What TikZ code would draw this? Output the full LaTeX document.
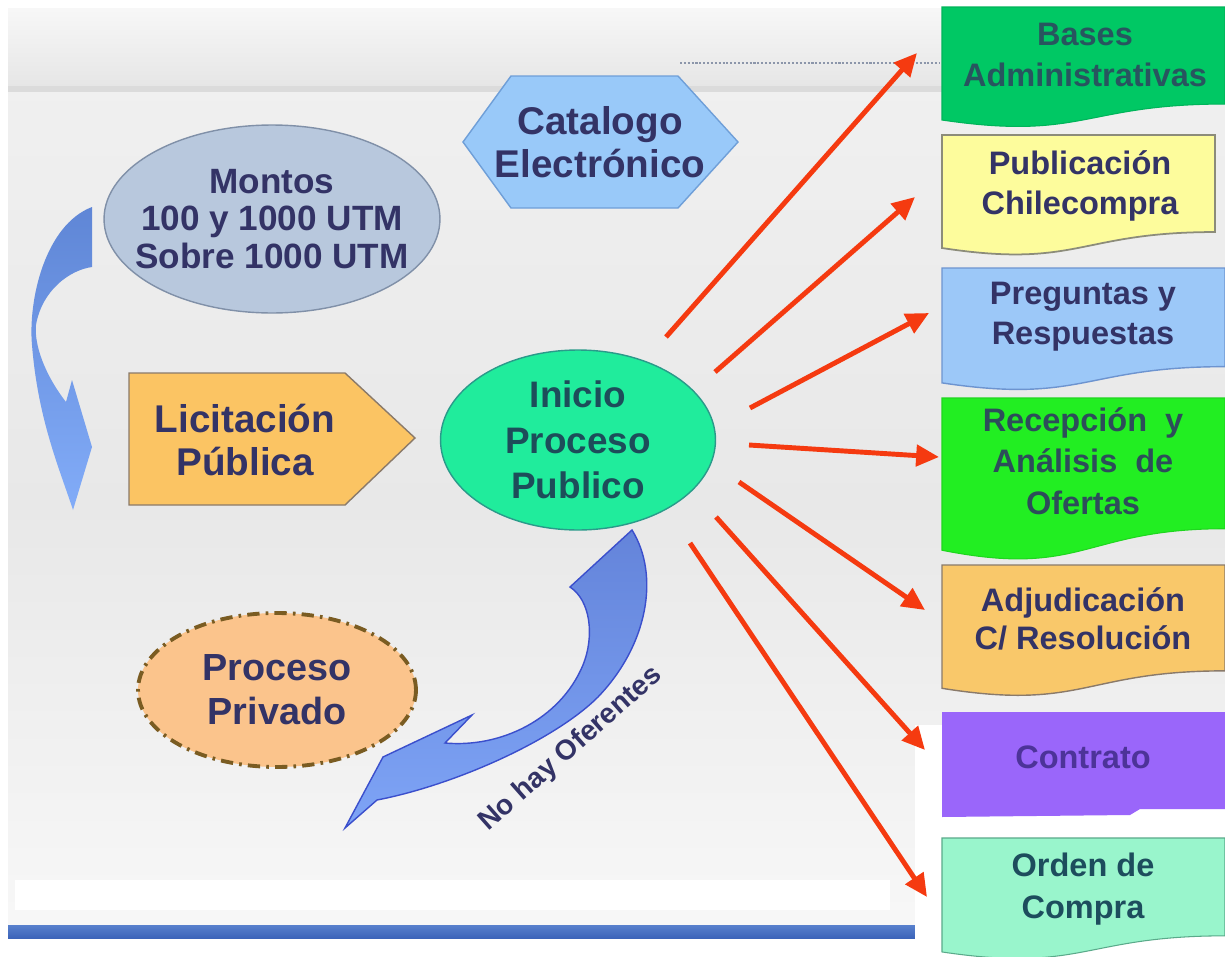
\documentclass[tikz,border=0pt]{standalone}
\usepackage{fontspec}
\setmainfont{Liberation Sans}
\usetikzlibrary{shapes.geometric,arrows.meta,calc}
\definecolor{navy}{HTML}{333366}
\definecolor{tealtxt}{HTML}{1D4D5A}
\definecolor{redarr}{HTML}{F53A10}
\definecolor{montosfill}{HTML}{B8C8DD}
\definecolor{hexfill}{HTML}{99C9F9}
\definecolor{licfill}{HTML}{FBC463}
\definecolor{iniciofill}{HTML}{20EC9C}
\definecolor{privfill}{HTML}{FBC48C}
\definecolor{basesfill}{HTML}{00C864}
\definecolor{pubfill}{HTML}{FDFC9C}
\definecolor{pregfill}{HTML}{9CC8F8}
\definecolor{recfill}{HTML}{22EE22}
\definecolor{adjfill}{HTML}{F9C86A}
\definecolor{contfill}{HTML}{9A66FA}
\definecolor{ordfill}{HTML}{99F5CC}
\newcommand\docbox[5]{%
  \path[#5] (#1,#2) -- ({#1+#3},#2) -- ({#1+#3},{#2+0.802*#4})
    .. controls ({#1+0.5*#3},{#2+0.802*#4}) and ({#1+0.5*#3},{#2+1.107*#4}) ..
    (#1,{#2+0.934*#4}) -- cycle;}
\tikzset{
  txt/.style={font=\bfseries, align=center, text=navy, inner sep=0pt},
  bigtxt/.style={txt, font=\fontsize{21.5}{25}\selectfont\bfseries},
  boxtxt/.style={txt, font=\fontsize{18.5}{22.8}\selectfont\bfseries},
  redarrow/.style={draw=redarr, line width=2.8pt, -{Triangle[length=13pt,width=12pt]}},
}
\begin{document}
\begin{tikzpicture}[x=0.02cm,y=-0.02cm]
\useasboundingbox (0,0) rectangle (1225,957);
\fill[white] (0,0) rectangle (1225,957);
% background
\shade[top color=black!6, bottom color=black!3, middle color=black!9] (8,90) rectangle (1225,925);
\shade[top color=black!3, bottom color=black!10] (8,8) rectangle (1225,88);
\fill[black!14] (8,86) rectangle (1225,92);
\fill[black!6] (8,92) rectangle (1225,97);
\fill[white] (15,880) rectangle (890,910);
\fill[white] (0,925) rectangle (1225,957);
\shade[top color={rgb,255:red,88;green,128;blue,205}, bottom color={rgb,255:red,60;green,100;blue,185}] (8,925) rectangle (932,938);
\fill[white] (915,725) rectangle (942,957);
\fill[white] (942,808) rectangle (1225,838);
\draw[densely dotted, color={rgb,255:red,140;green,150;blue,170}, line width=1.2pt] (680,63) -- (940,63);

% left curved arrow
\shade[top color={rgb,255:red,95;green,134;blue,214}, bottom color={rgb,255:red,130;green,172;blue,248}]
  (92,207) .. controls (45,225) and (28,300) .. (32,345)
  .. controls (38,420) and (60,470) .. (73,510) -- (92,447) -- (72,380) -- (66,402)
  .. controls (45,375) and (34,345) .. (36,325)
  .. controls (42,290) and (70,270) .. (92,267) -- cycle;

% nodes left part
\node[ellipse, draw={rgb,255:red,128;green,144;blue,168}, line width=0.8pt, fill=montosfill,
  minimum width=6.72cm, minimum height=3.76cm, inner sep=0pt] (montos) at (272,219) {};
\node[txt, font=\fontsize{20}{21.5}\selectfont\bfseries] at (montos.center) {Montos\\100 y 1000 UTM\\Sobre 1000 UTM};

\filldraw[fill=hexfill, draw={rgb,255:red,111;green,159;blue,216}, line width=0.8pt]
  (463,142) -- (511,76) -- (678,76) -- (738,142) -- (678,208) -- (511,208) -- cycle;
\node[txt, font=\fontsize{22}{24.4}\selectfont\bfseries] (catalogo) at (600,142) {Catalogo\\Electrónico};

\filldraw[fill=licfill, draw={rgb,255:red,138;green,122;blue,106}, line width=0.8pt]
  (129,373) -- (345,373) -- (415,438) -- (345,505) -- (129,505) -- cycle;
\node[bigtxt, font=\fontsize{22}{25}\selectfont\bfseries] (licitacion) at (245,440) {Licitación\\Pública};

\node[ellipse, draw={rgb,255:red,42;green,154;blue,138}, line width=0.8pt, fill=iniciofill,
  minimum width=5.5cm, minimum height=3.6cm, inner sep=0pt] (inicio) at (578,440) {};
\node[txt, text=tealtxt, font=\fontsize{21}{26}\selectfont\bfseries] at (inicio.center) {Inicio\\Proceso\\Publico};

\node[ellipse, draw={rgb,255:red,122;green,92;blue,34}, line width=2.2pt, fill=privfill,
  dash pattern=on 7pt off 3.5pt on 1.5pt off 3.5pt,
  minimum width=5.56cm, minimum height=3.08cm, inner sep=0pt] (privado) at (277,690) {};
\node[bigtxt] at (privado.center) {Proceso\\Privado};

% bottom curved arrow
\shade[top color={rgb,255:red,100;green,132;blue,218}, bottom color={rgb,255:red,126;green,164;blue,246}, draw={rgb,255:red,59;green,79;blue,204}, line width=0.8pt]
  (632,530) .. controls (660,575) and (648,645) .. (598,697)
  .. controls (555,740) and (455,785) .. (377,800) -- (345,828) -- (383,757) -- (472,715) -- (445,743)
  .. controls (500,748) and (560,720) .. (583,665)
  .. controls (595,635) and (590,600) .. (570,587) -- cycle;
\node[txt, rotate=41.5, font=\fontsize{16}{18}\selectfont\bfseries] (nohay) at (571,749) {No hay Oferentes};

% right boxes
\docbox{942}{7}{283}{121}{fill=basesfill, draw=basesfill!90!black, line width=0.6pt}
\node[boxtxt, text={rgb,255:red,40;green,85;blue,95}] (bases) at (1085,55) {Bases\\Administrativas};
\docbox{942}{135}{273}{121}{fill=pubfill, draw={rgb,255:red,140;green,140;blue,122}, line width=1pt}
\node[boxtxt] (publicacion) at (1080,186) {Publicación\\Chilecompra};
\docbox{942}{268}{283}{123}{fill=pregfill, draw={rgb,255:red,109;green,148;blue,208}, line width=0.8pt}
\node[boxtxt] (preguntas) at (1083,317) {Preguntas y\\Respuestas};
\docbox{942}{398}{283}{163}{fill=recfill, draw=recfill!90!black, line width=0.6pt}
\node[boxtxt, text={rgb,255:red,45;green,77;blue,90}, font=\fontsize{18.5}{23.5}\selectfont\bfseries] (recepcion) at (1083,461) {Recepción\ \ y\\Análisis\ \ de\\Ofertas};
\docbox{942}{565}{283}{132}{fill=adjfill, draw={rgb,255:red,138;green,122;blue,106}, line width=0.8pt}
\node[boxtxt, font=\fontsize{18.5}{21.5}\selectfont\bfseries] (adjudicacion) at (1083,619) {Adjudicación\\C/ Resolución};
\fill[contfill] (942,712) -- (1225,712) -- (1225,809) -- (1140,809) -- (1130,815) -- (942,817) -- cycle;
\node[boxtxt, text={rgb,255:red,77;green,51;blue,153}] (contrato) at (1083,757) {Contrato};
\docbox{942}{838}{283}{122}{fill=ordfill, draw={rgb,255:red,90;green,170;blue,138}, line width=0.6pt}
\node[boxtxt, text={rgb,255:red,29;green,77;blue,93}, font=\fontsize{18.5}{24}\selectfont\bfseries] (orden) at (1083,889) {Orden de\\Compra};

% red arrows
\coordinate (s1) at (666,337); \coordinate (t1) at (917,53);
\coordinate (s2) at (715,372); \coordinate (t2) at (915,197);
\coordinate (s3) at (750,408); \coordinate (t3) at (929,313);
\coordinate (s4) at (749,445); \coordinate (t4) at (939,457);
\coordinate (s5) at (739,482); \coordinate (t5) at (925,610);
\coordinate (s6) at (716,517); \coordinate (t6) at (925,750);
\coordinate (s7) at (690,543); \coordinate (t7) at (927,897);
\foreach \i in {1,...,7} {\draw[redarrow] (s\i) -- (t\i);}
\end{tikzpicture}
\end{document}
